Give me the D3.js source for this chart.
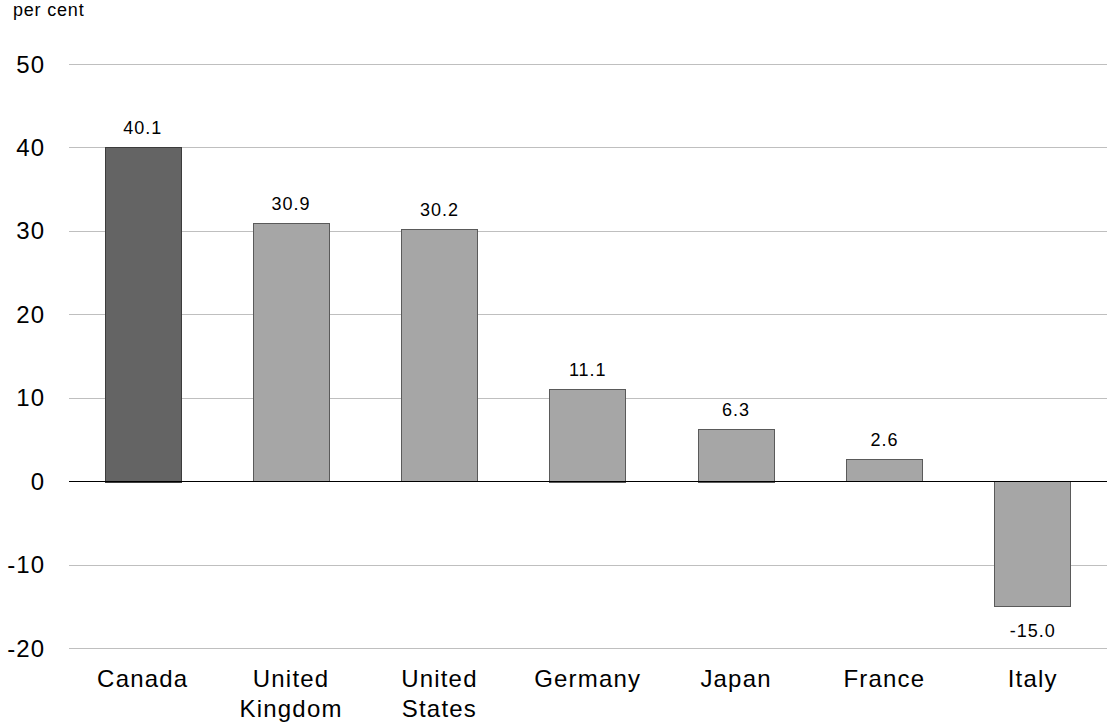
<!DOCTYPE html>
<html>
<head>
<meta charset="utf-8">
<script src="https://cdn.jsdelivr.net/npm/d3@7"></script>
<style>
  html, body { margin: 0; padding: 0; background: #fff; }
  svg { display: block; font-family: "Liberation Sans", Arial, sans-serif; }
</style>
</head>
<body>
<div id="chart"></div>
<script>
const width = 1107;
const height = 724;

const countries = ["Canada", "United Kingdom", "United States", "Germany", "Japan", "France", "Italy"];
const labels = [["Canada"], ["United", "Kingdom"], ["United", "States"], ["Germany"], ["Japan"], ["France"], ["Italy"]];
const values = [40.1, 30.9, 30.2, 11.1, 6.3, 2.6, -15.0];
const yTicks = [-20, -10, 0, 10, 20, 30, 40, 50];

const margin = { top: 64, right: 0, bottom: 76, left: 70 };

const x = d3.scaleBand()
    .domain(countries)
    .range([margin.left, 1104.5])
    .paddingInner(0.491)
    .paddingOuter(0.2326);

const y = d3.scaleLinear()
    .domain([-20, 50])
    .range([height - margin.bottom, margin.top]);

const svg = d3.select("#chart")
    .append("svg")
    .attr("width", width)
    .attr("height", height);

// grid lines
svg.append("g")
    .selectAll("line")
    .data(yTicks.filter(d => d !== 0))
    .enter()
    .append("line")
    .attr("x1", margin.left - 1)
    .attr("x2", width)
    .attr("y1", d => Math.round(y(d)) + 0.5)
    .attr("y2", d => Math.round(y(d)) + 0.5)
    .attr("stroke", "#bfbfbf")
    .attr("stroke-width", 1);

// y tick labels
svg.append("g")
    .selectAll("text")
    .data(yTicks)
    .enter()
    .append("text")
    .attr("x", 45)
    .attr("y", d => y(d))
    .attr("dy", "0.36em")
    .attr("text-anchor", "end")
    .style("font-size", "24px")
    .style("letter-spacing", "1px")
    .style("fill", "#000")
    .text(d => d);

// unit label
svg.append("text")
    .attr("x", 13)
    .attr("y", 16)
    .style("font-size", "18px")
    .style("letter-spacing", "0.8px")
    .style("fill", "#000")
    .text("per cent");

// bars
const data = countries.map((c, i) => ({ name: c, value: values[i], label: labels[i] }));

svg.append("g")
    .selectAll("rect")
    .data(data)
    .enter()
    .append("rect")
    .attr("x", d => Math.round(x(d.name)) + 0.5)
    .attr("width", Math.round(x.bandwidth()))
    .attr("y", d => Math.round(y(Math.max(0, d.value))) + 0.5)
    .attr("height", d => Math.round(Math.abs(y(d.value) - y(0))))
    .attr("fill", (d, i) => i === 0 ? "#646464" : "#a6a6a6")
    .attr("stroke", (d, i) => i === 0 ? "#3c3c3c" : "#5a5a5a")
    .attr("stroke-width", 1);

// zero line
svg.append("line")
    .attr("x1", margin.left - 1)
    .attr("x2", width)
    .attr("y1", Math.round(y(0)) + 0.5)
    .attr("y2", Math.round(y(0)) + 0.5)
    .attr("stroke", "#000")
    .attr("stroke-width", 1.2);

// value labels
svg.append("g")
    .selectAll("text")
    .data(data)
    .enter()
    .append("text")
    .attr("x", d => x(d.name) + x.bandwidth() / 2 + 0.5)
    .attr("y", d => d.value >= 0 ? y(d.value) - 13 : y(d.value) + 31)
    .attr("text-anchor", "middle")
    .style("font-size", "18px")
    .style("letter-spacing", "1px")
    .style("fill", "#000")
    .text(d => d.value.toFixed(1));

// category labels
svg.append("g")
    .selectAll("text")
    .data(data)
    .enter()
    .append("text")
    .attr("x", d => x(d.name) + x.bandwidth() / 2 + 0.5)
    .attr("y", 687)
    .attr("text-anchor", "middle")
    .style("font-size", "24px")
    .style("letter-spacing", "1.2px")
    .style("fill", "#000")
    .selectAll("tspan")
    .data(d => d.label)
    .enter()
    .append("tspan")
    .attr("x", function() { return d3.select(this.parentNode).attr("x"); })
    .attr("dy", (d, i) => i > 0 ? 30 : 0)
    .text(d => d);
</script>
</body>
</html>
